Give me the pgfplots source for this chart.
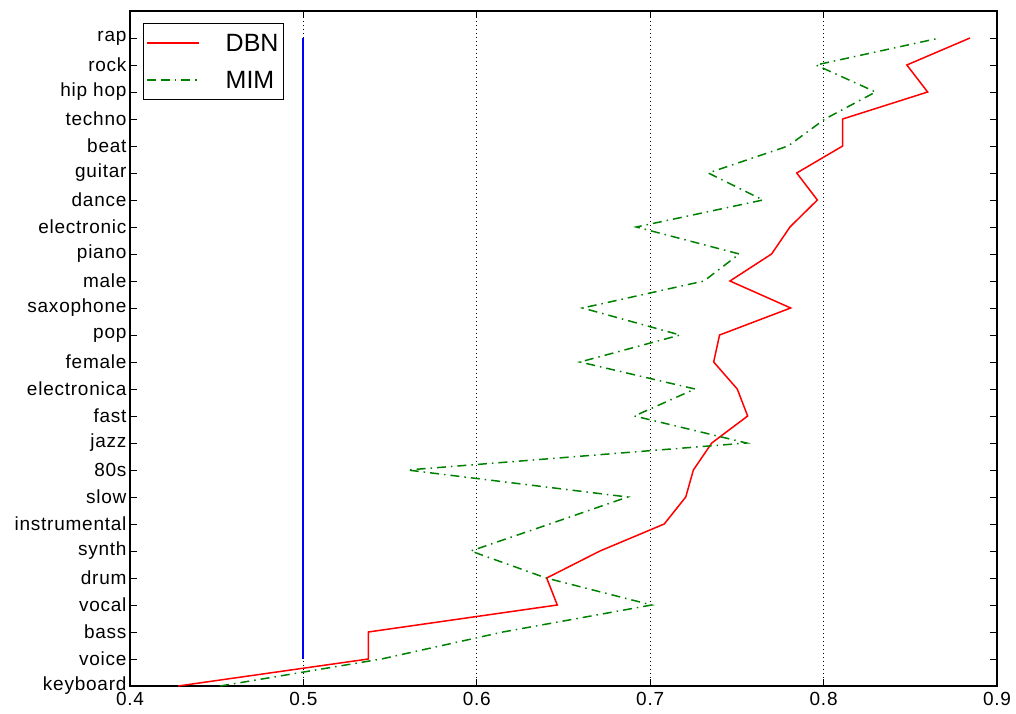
\documentclass[border=0pt]{standalone}
\usepackage{fontspec}
\setmainfont{Liberation Sans}
\usepackage{pgfplots}
\pgfplotsset{compat=1.18}
\definecolor{mplgreen}{RGB}{0,128,0}
\definecolor{mplblue}{RGB}{0,0,255}
\begin{document}
\begin{tikzpicture}
\begin{axis}[
  scale only axis, width=867pt, height=675pt,
  xmin=0.4, xmax=0.9, ymin=0, ymax=25,
  xtick={0.4,0.5,0.6,0.7,0.8,0.9},
  ytick={0,1,2,3,4,5,6,7,8,9,10,11,12,13,14,15,16,17,18,19,20,21,22,23,24},
  yticklabels={keyboard,voice,bass,vocal,drum,synth,instrumental,slow,80s,jazz,fast,electronica,female,pop,saxophone,male,piano,electronic,dance,guitar,beat,techno,hip hop,rock,rap},
  xticklabel style={/pgf/number format/fixed, /pgf/number format/precision=1, yshift=-3pt},
  /pgf/number format/assume math mode=true,
  tick label style={font=\fontsize{19}{22}\selectfont\addfontfeatures{LetterSpace=4}},
  xmajorgrids,
  grid style={black, line width=1pt, dash pattern=on 1pt off 3pt},
  major tick length=7pt,
  tick style={black, line width=0.8pt},
  axis line style={line width=1.5pt},
  legend image code/.code={\path (-14pt,0pt) -- (0pt,0pt); \draw[#1] (0pt,0pt) -- (38pt,0pt);},
  legend style={at={(0,1)}, anchor=north west, xshift=13pt, yshift=-12pt,
    inner xsep=3pt, inner ysep=9pt, row sep=16pt,
    font=\fontsize{25}{30}\selectfont, nodes={inner sep=2pt, text depth=0pt},
    cells={anchor=west},
    /tikz/every odd column/.append style={column sep=24pt}},
]
\addplot[draw=red, line width=1.5pt] coordinates {
(0.4277,0) (0.5374,1) (0.5374,2) (0.6464,3) (0.6403,4) (0.671,5) (0.7081,6)
(0.7205,7) (0.7249,8) (0.7355,9) (0.7562,10) (0.7502,11) (0.7366,12) (0.740,13)
(0.781,14) (0.746,15) (0.770,16) (0.7806,17) (0.7964,18) (0.7845,19) (0.811,20)
(0.811,21) (0.860,22) (0.848,23) (0.8844,24)};
\addplot[draw=mplgreen, line width=1.5pt, dash pattern=on 9pt off 5pt on 1.5pt off 5pt] coordinates {
(0.452,0) (0.545,1) (0.615,2) (0.7008,3) (0.640,4) (0.5965,5) (0.642,6)
(0.687,7) (0.560,8) (0.7555,9) (0.6909,10) (0.7258,11) (0.6595,12) (0.7172,13)
(0.661,14) (0.731,15) (0.7514,16) (0.692,17) (0.765,18) (0.7335,19) (0.7795,20)
(0.8008,21) (0.830,22) (0.7956,23) (0.867,24)};
\addplot[draw=mplblue, line width=2pt] coordinates {(0.5,1) (0.5,24)};
\legend{DBN,MIM}
\end{axis}
\pgfresetboundingbox
\path (current axis.south west) ++(-130pt,-27pt) rectangle ++(1016pt,713pt);
\end{tikzpicture}
\end{document}
